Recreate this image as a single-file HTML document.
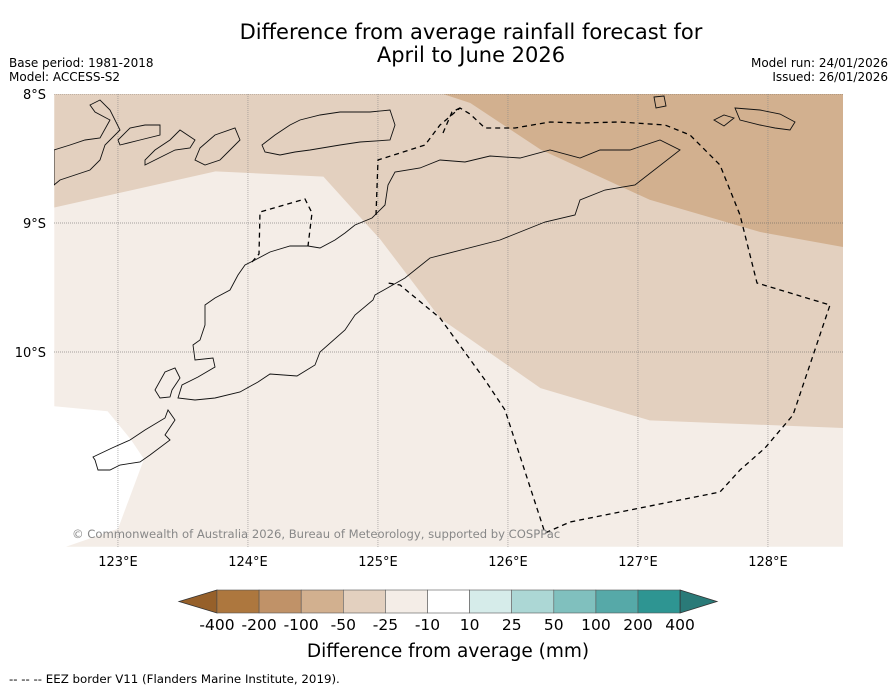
<!DOCTYPE html>
<html><head><meta charset="utf-8">
<style>
body{margin:0;background:#fff;}
svg{display:block;font-family:"DejaVu Sans","Liberation Sans",sans-serif;}
</style></head>
<body>
<svg id="chart" width="896" height="690" viewBox="0 0 896 690">
<g id="title">
<text x="471" y="39" font-size="21" text-anchor="middle">Difference from average rainfall forecast for</text>
<text x="471" y="62" font-size="21" text-anchor="middle">April to June 2026</text>
</g>
<text x="9" y="67" font-size="12">Base period: 1981-2018</text>
<text x="9" y="81" font-size="12">Model: ACCESS-S2</text>
<text x="888" y="67" font-size="12" text-anchor="end">Model run: 24/01/2026</text>
<text x="888" y="81" font-size="12" text-anchor="end">Issued: 26/01/2026</text>
<g id="map"></g>
<g id="cbar"></g>
<text x="448" y="657" font-size="18.5" text-anchor="middle">Difference from average (mm)</text>
<text x="9" y="683" font-size="11.8">--  --  -- EEZ border V11 (Flanders Marine Institute, 2019).</text>
</svg>
<script>
const lonTicks=[123,124,125,126,127,128];
const latTicks=[-8,-9,-10];
const lonTickLabels=["123°E","124°E","125°E","126°E","127°E","128°E"];
const latTickLabels=["8°S","9°S","10°S"];
const cbarLabels=["-400","-200","-100","-50","-25","-10","10","25","50","100","200","400"];
const cbarColors=["#ad773e","#c09268","#d2b08f","#e3d0bf","#f4ede7","#ffffff","#d6ecea","#acd7d5","#80c0be","#56a9a8","#2e9592"];
const extColors=["#96602a","#2a7a78"];
const regionLight=[[122.51,-10.42],[122.92,-10.46],[123.1,-10.68],[123.2,-10.83],[123.0,-11.37],[122.6,-11.51],[128.6,-11.51],[128.6,-8],[122.51,-8]];
const regionMid=[[122.51,-8.88],[123.75,-8.6],[124.58,-8.64],[125.02,-9.13],[125.48,-9.74],[126.25,-10.28],[127.09,-10.53],[128.6,-10.59],[128.6,-8],[122.51,-8]];
const regionDark=[[125.5,-8],[128.6,-8],[128.6,-9.19],[127.94,-9.07],[127.09,-8.82],[126.25,-8.43],[125.71,-8.07]];
const sx=lon=>54+(lon-122.508)*130;
const sy=lat=>94+(-lat-8)*129;
const P=a=>a.map(p=>[122.508+(p[0]-54)/130,-(8+(p[1]-94)/129)]);
const timor=P([[375,295],[405,278],[430,258],[500,240],[545,222],[575,215],[580,200],[605,190],[635,185],[680,150],[660,140],[630,150],[600,150],[580,158],[550,150],[520,158],[490,156],[465,162],[440,160],[420,168],[395,172],[388,185],[385,205],[372,218],[355,225],[345,233],[335,240],[320,248],[308,246],[290,246],[270,252],[255,260],[245,265],[238,275],[230,290],[215,298],[205,305],[205,325],[200,340],[193,345],[195,360],[213,358],[215,367],[198,377],[182,385],[178,398],[195,400],[215,398],[240,392],[258,382],[270,374],[297,376],[315,365],[320,352],[345,330],[355,315],[373,300]]);
const roti=P([[155,390],[165,372],[175,368],[180,378],[172,390],[170,397],[160,398]]);
const sawu=P([[93,457],[112,448],[130,440],[145,430],[165,418],[168,410],[175,420],[165,435],[170,440],[150,455],[140,462],[120,465],[110,470],[98,470],[95,460]]);
const isles=[
P([[54,150],[70,145],[85,140],[100,138],[110,120],[95,112],[90,105],[100,100],[110,110],[120,130],[105,145],[100,160],[90,170],[75,175],[60,180],[54,185]]),
P([[120,145],[140,140],[160,135],[160,125],[145,125],[130,128],[118,140]]),
P([[145,165],[165,155],[175,150],[190,148],[195,140],[180,130],[170,140],[155,150],[145,160]]),
P([[200,148],[215,135],[235,128],[240,140],[230,150],[220,160],[205,165],[195,160]]),
P([[262,145],[275,135],[290,125],[300,120],[320,115],[340,112],[370,112],[390,110],[395,125],[390,140],[360,142],[340,145],[310,150],[295,152],[280,155],[265,152]]),
P([[654,97],[664,96],[666,106],[656,108]]),
P([[735,108],[760,110],[780,114],[795,122],[790,130],[775,128],[760,125],[740,120]]),
P([[714,120],[724,115],[734,118],[724,126]])
];
const eez=[
P([[376,215],[378,160],[425,145],[440,125],[460,108],[470,114],[485,128],[515,128],[550,122],[580,123],[620,122],[665,125],[690,135],[720,165],[740,215],[757,283],[830,305],[793,415],[765,448],[740,470],[720,492],[570,522],[545,533],[505,410],[485,380],[440,318],[400,285],[388,283]]),
P([[252,262],[259,254],[260,212],[305,199],[312,213],[308,246]]),
P([[443,133],[452,112],[460,108]])
];
const NS='http://www.w3.org/2000/svg';
function mk(tag,attrs,parent){const e=document.createElementNS(NS,tag);for(const k in attrs)e.setAttribute(k,attrs[k]);parent.appendChild(e);return e;}
const map=document.getElementById('map');
const pts=a=>a.map(p=>sx(p[0]).toFixed(1)+','+sy(p[1]).toFixed(1)).join(' ');
const clip=mk('clipPath',{id:'cp'},mk('defs',{},map));
mk('rect',{x:54,y:94,width:789,height:453},clip);
const g=mk('g',{'clip-path':'url(#cp)'},map);
const bg=mk('rect',{x:54,y:94,width:789,height:453,fill:'#ffffff'},g);


[[regionLight,cbarColors[4],'region-minus25-minus10'],[regionMid,cbarColors[3],'region-minus50-minus25'],[regionDark,cbarColors[2],'region-minus100-minus50']].forEach(r=>{
 const e=mk('polygon',{points:pts(r[0]),fill:r[1]},g);
 
 
});
lonTicks.forEach((v,i)=>{
 const l=mk('line',{x1:sx(v),x2:sx(v),y1:94,y2:547,stroke:'#888','stroke-width':0.6,'stroke-dasharray':'1,1'},g);
 
 
 const t=mk('text',{x:sx(v),y:566,'font-size':13,'text-anchor':'middle'},map);
 
 
 t.textContent=lonTickLabels[i];
});
latTicks.forEach((v,i)=>{
 const l=mk('line',{x1:54,x2:843,y1:sy(v),y2:sy(v),stroke:'#555','stroke-width':0.6,'stroke-dasharray':'1,1'},g);
 
 
 const t=mk('text',{x:46,y:sy(v)+5,'font-size':13,'text-anchor':'end'},map);
 
 
 t.textContent=latTickLabels[i];
});
[timor,roti,sawu,...isles].forEach(c=>{
 const e=mk('polygon',{points:pts(c),fill:'none',stroke:'#111','stroke-width':0.9},g);
 
 
});
eez.forEach(c=>{
 const e=mk('polyline',{points:pts(c),fill:'none',stroke:'#000','stroke-width':1.3,'stroke-dasharray':'5,4'},g);
 
 
});
const cr=mk('text',{x:72,y:538,'font-size':11.6,fill:'#888'},g);


cr.textContent='© Commonwealth of Australia 2026, Bureau of Meteorology, supported by COSPPac';
const cb=document.getElementById('cbar');
const cx0=217,cw=42.1,cy=590,ch=23;
const le=mk('polygon',{points:`${cx0},${cy} 179,${cy+ch/2} ${cx0},${cy+ch}`,fill:extColors[0],stroke:'#333','stroke-width':0.8},cb);


cbarColors.forEach((c,i)=>{
 const r=mk('rect',{x:cx0+i*cw,y:cy,width:cw,height:ch,fill:c,stroke:'#555','stroke-width':0.6},cb);
 
 
});
const xe=cx0+cbarColors.length*cw;
const re=mk('polygon',{points:`${xe},${cy} 717,${cy+ch/2} ${xe},${cy+ch}`,fill:extColors[1],stroke:'#333','stroke-width':0.8},cb);


cbarLabels.forEach((s,i)=>{
 const t=mk('text',{x:cx0+i*cw,y:630,'font-size':15.5,'text-anchor':'middle'},cb);
 
 
 t.textContent=s;
});
</script>
</body></html>
